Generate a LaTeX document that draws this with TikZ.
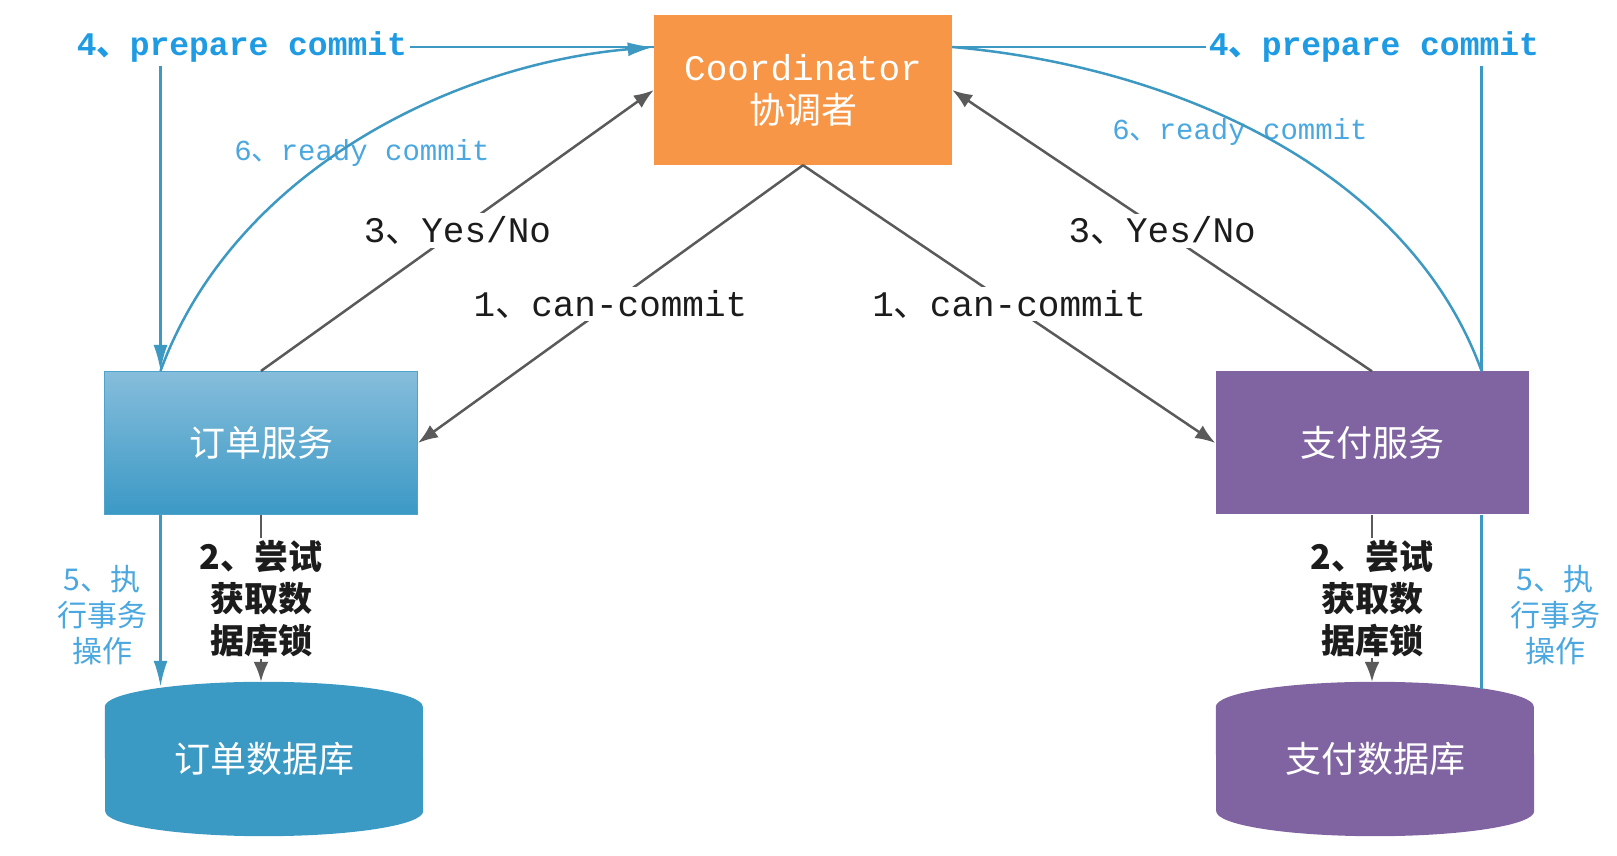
\documentclass[tikz,border=0pt]{standalone}
\usepackage{fontspec}
\setmainfont{Liberation Mono}
\newfontfamily\cjk{Noto Sans CJK SC}
\usetikzlibrary{arrows.meta,calc}
\definecolor{coordorange}{HTML}{F79646}
\definecolor{svctop}{HTML}{86BDDB}
\definecolor{svcbot}{HTML}{3B99C5}
\definecolor{svcedge}{HTML}{4EA2CB}
\definecolor{dbblue}{HTML}{3A9AC4}
\definecolor{paypurple}{HTML}{8064A2}
\definecolor{arrowgray}{HTML}{5A5A5A}
\definecolor{lineblue}{HTML}{3D98C2}
\definecolor{prepblue}{HTML}{1E9BE3}
\definecolor{readyblue}{HTML}{4AA7DF}
\definecolor{labelblack}{HTML}{1C1C1C}
\newcommand{\dun}{{\cjk 、}}
\pgfdeclarelayer{bg}
\pgfsetlayers{bg,main}

\begin{document}
\begin{tikzpicture}[x=1pt, y=1pt,
  svc/.style={minimum width=313pt, minimum height=143pt, inner sep=0pt, align=center,
              text=white, font=\cjk\fontsize{36}{40}\selectfont},
  db/.style={minimum width=318pt, minimum height=154pt, inner sep=0pt, text=white,
             font=\cjk\fontsize{36}{40}\selectfont},
  ar/.style={draw=arrowgray, line width=2.5pt, -{Latex[length=20pt,width=15pt]}},
  bl/.style={draw=lineblue, line width=2.5pt},
  bar/.style={bl, -{Latex[length=26pt,width=14pt]}},
  lbl/.style={fill=white, inner sep=3pt, text=labelblack, font=\fontsize{36}{40}\selectfont},
  plbl/.style={fill=white, inner sep=3pt, text=prepblue, font=\bfseries\fontsize{33}{38}\selectfont},
  rlbl/.style={text=readyblue, font=\fontsize{29}{34}\selectfont},
  slbl/.style={text=readyblue, align=center, font=\cjk\fontsize{30}{36}\selectfont},
  lklbl/.style={fill=white, inner sep=2pt, align=center, text=labelblack,
                font=\cjk\bfseries\fontsize{34}{42}\selectfont}
]
\useasboundingbox (0,0) rectangle (1617,856);

% nodes
\node[fill=coordorange, minimum width=298pt, minimum height=150pt, inner sep=0pt,
      align=center, text=white, font=\fontsize{36}{43}\selectfont] (coord) at (803,766)
      {Coordinator\\{\cjk 协调者}};
\node[svc, top color=svctop, bottom color=svcbot, draw=svcedge, line width=1pt] (lsvc) at (261,413) {订单服务};
\node[svc, fill=paypurple] (rsvc) at (1372,413) {支付服务};
\node[db] (ldb) at (264,97) {订单数据库};
\node[db] (rdb) at (1375,97) {支付数据库};

\begin{pgfonlayer}{bg}
\foreach \d/\c in {ldb/dbblue, rdb/paypurple}
  \fill[\c] ([yshift=-25pt]\d.north west) arc[start angle=180, end angle=0, x radius=159, y radius=25]
    -- ([yshift=25pt]\d.south east) arc[start angle=0, end angle=-180, x radius=159, y radius=25] -- cycle;
\end{pgfonlayer}

\coordinate (ltop) at ($(lsvc.north west)!0.18!(lsvc.north east)$);
\coordinate (lbot) at ($(lsvc.south west)!0.18!(lsvc.south east)$);
\coordinate (rtop) at ($(rsvc.north west)!0.85!(rsvc.north east)$);
\coordinate (rbot) at ($(rsvc.south west)!0.85!(rsvc.south east)$);

% 1 and 3
\draw[ar] (coord.south) -- node[lbl] {1\dun can-commit} (lsvc.east);
\draw[ar] (coord.south) -- node[lbl] {1\dun can-commit} (rsvc.west);
\draw[ar] (lsvc.north) -- node[lbl] {3\dun Yes/No} (coord.west);
\draw[ar] (rsvc.north) -- node[lbl] {3\dun Yes/No} (coord.east);

% 2
\draw[ar] (lsvc.south) -- node[lklbl] {2、尝试\\获取数\\据库锁} (lsvc.south |- ldb.north);
\draw[ar] (rsvc.south) -- node[lklbl] {2、尝试\\获取数\\据库锁} (rsvc.south |- rdb.north);

% 4 and 6
\node[plbl] (p4l) at (242,809) {4\dun prepare commit};
\node[plbl] (p4r) at (1374,809) {4\dun prepare commit};
\node[rlbl] (r6l) at (362,703) {6\dun ready commit};
\node[rlbl] (r6r) at (1240,724) {6\dun ready commit};
\draw[bl] (p4l) -- (coord.west |- p4l);
\draw[bar] (p4l.south -| ltop) -- (ltop);
\draw[bar] (ltop) to[out=70, in=185, looseness=0.9] (coord.west |- p4l);
\draw[bl] (coord.east |- p4r) -- (p4r);
\draw[bl] (p4r.south -| rtop) -- (rtop);
\draw[bl] (rtop) to[out=110, in=-5, looseness=0.9] (coord.east |- p4r);

% 5
\node[slbl] (e5l) at (102,241) {5、执\\行事务\\操作};
\node[slbl] (e5r) at (1555,241) {5、执\\行事务\\操作};
\draw[bar] (lbot) -- ([yshift=-5pt]lbot |- ldb.north);
\draw[bl] (rbot) -- ([yshift=-7pt]rbot |- rdb.north);
\end{tikzpicture}
\end{document}
